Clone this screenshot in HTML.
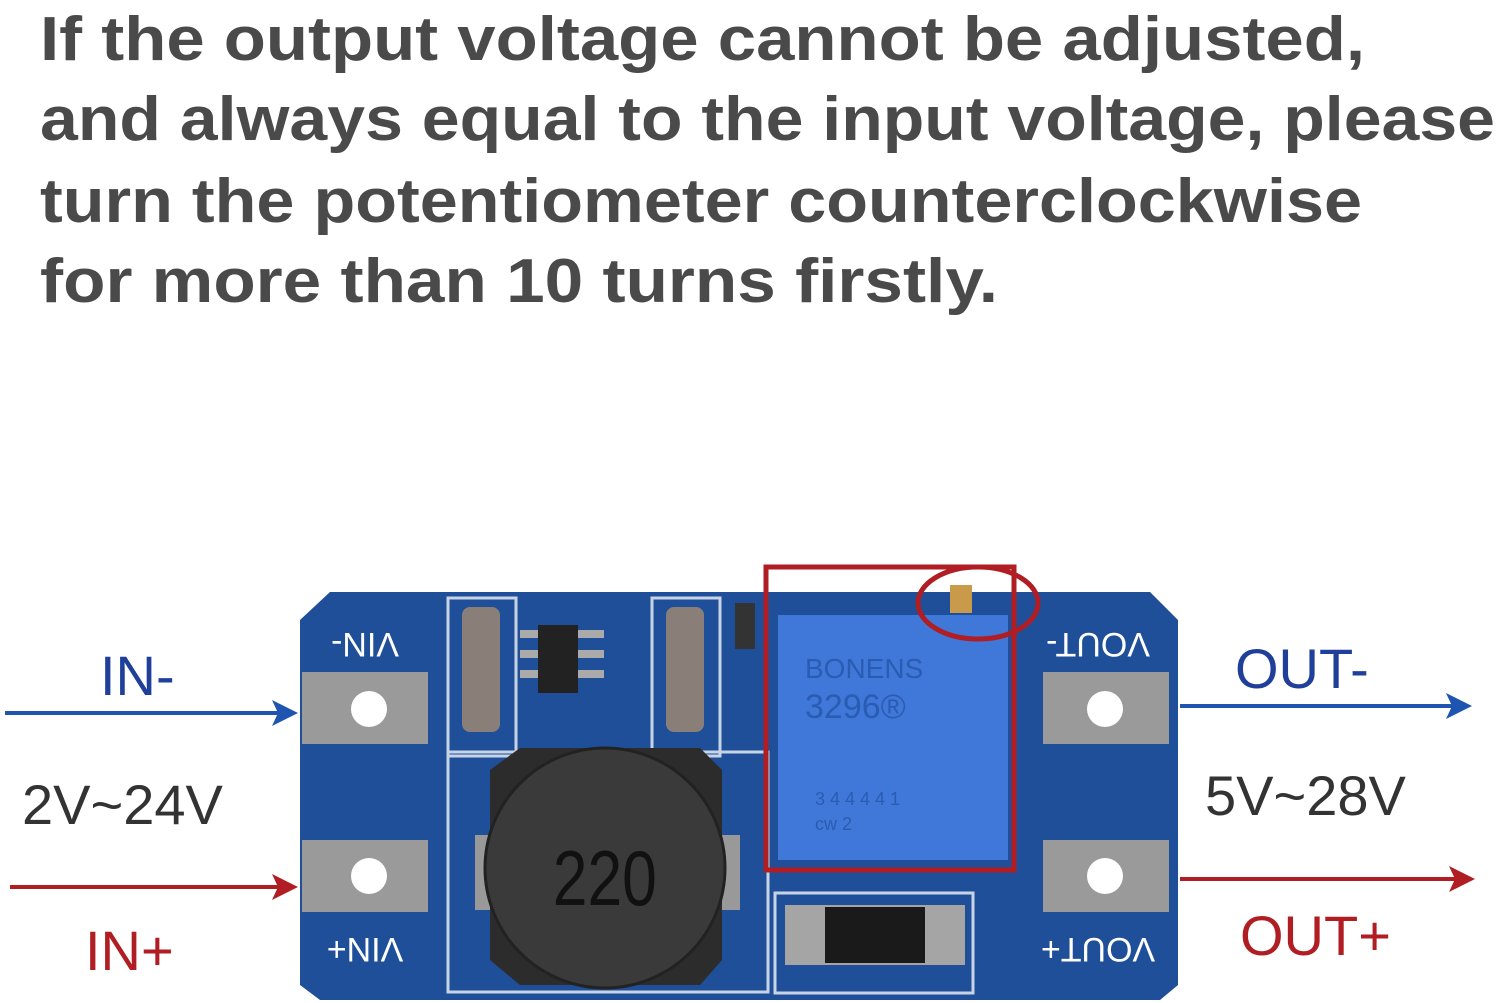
<!DOCTYPE html>
<html><head><meta charset="utf-8"><style>body{margin:0;background:#fff}svg{display:block}</style></head><body>
<svg width="1500" height="1003" viewBox="0 0 1500 1003" xmlns="http://www.w3.org/2000/svg" font-family="Liberation Sans, sans-serif">
<rect width="1500" height="1003" fill="#fff"/>
<g fill="#4a4a4a" font-weight="bold" font-size="62">
<text x="40" y="60" textLength="1325" lengthAdjust="spacingAndGlyphs">If the output voltage cannot be adjusted,</text>
<text x="40" y="140" textLength="1455" lengthAdjust="spacingAndGlyphs">and always equal to the input voltage, please</text>
<text x="40" y="222" textLength="1322" lengthAdjust="spacingAndGlyphs">turn the potentiometer counterclockwise</text>
<text x="40" y="302" textLength="958" lengthAdjust="spacingAndGlyphs">for more than 10 turns firstly.</text>
</g>
<path d="M330 592 H1150 L1178 620 V985 L1160 1000 H320 L300 985 V620 Z" fill="#1f4f98"/>
<g fill="none" stroke="#c8d4e6" stroke-width="3">
<rect x="448" y="598" width="68" height="158"/>
<rect x="652" y="598" width="68" height="158"/>
<rect x="448" y="752" width="320" height="240"/>
<rect x="775" y="893" width="198" height="100"/>
</g>
<g fill="#9a9a9a">
<rect x="302" y="672" width="126" height="72"/>
<rect x="302" y="840" width="126" height="72"/>
<rect x="1043" y="672" width="126" height="72"/>
<rect x="1043" y="840" width="126" height="72"/>
</g>
<g fill="#fff">
<circle cx="369" cy="709" r="18"/><circle cx="369" cy="876" r="18"/>
<circle cx="1105" cy="709" r="18"/><circle cx="1105" cy="876" r="18"/>
</g>
<rect x="462" y="607" width="38" height="125" rx="8" fill="#8a7f78"/>
<rect x="666" y="607" width="38" height="125" rx="8" fill="#8a7f78"/>
<rect x="735" y="603" width="20" height="46" fill="#333"/>
<rect x="538" y="625" width="40" height="68" fill="#222"/>
<g fill="#aaa"><rect x="520" y="630" width="18" height="8"/><rect x="520" y="650" width="18" height="8"/><rect x="520" y="670" width="18" height="8"/><rect x="578" y="630" width="26" height="8"/><rect x="578" y="650" width="26" height="8"/><rect x="578" y="670" width="26" height="8"/></g>
<rect x="475" y="835" width="265" height="75" fill="#999"/>
<path d="M520 748 H700 L722 770 V960 L700 985 H520 L490 960 V770 Z" fill="#2c2c2c"/>
<circle cx="605" cy="868" r="120" fill="#3a3a3a" stroke="#222" stroke-width="3"/>
<text x="605" y="905" font-size="78" fill="#111" text-anchor="middle" transform="scale(0.8 1) translate(151 0)">220</text>
<rect x="785" y="905" width="180" height="60" fill="#a5a5a5"/>
<rect x="825" y="907" width="100" height="56" fill="#1a1a1a"/>
<rect x="778" y="615" width="230" height="245" fill="#3f78d8"/>
<rect x="950" y="585" width="22" height="28" fill="#c89a4a"/>
<g fill="#2b5cb3" font-size="28">
<text x="805" y="678">BONENS</text><text x="805" y="718" font-size="34">3296®</text>
<text x="815" y="805" font-size="18">3 4 4 4 4 1</text><text x="815" y="830" font-size="18">cw  2</text>
</g>
<rect x="766" y="567" width="248" height="303" fill="none" stroke="#b01e23" stroke-width="5"/>
<ellipse cx="978" cy="603" rx="60" ry="36" fill="none" stroke="#b01e23" stroke-width="5"/>
<g fill="#fff" font-size="34" text-anchor="middle">
<text x="365" y="657" transform="rotate(180 365 645)">VIN-</text>
<text x="365" y="962" transform="rotate(180 365 950)">VIN+</text>
<text x="1098" y="657" transform="rotate(180 1098 645)">VOUT-</text>
<text x="1098" y="962" transform="rotate(180 1098 950)">VOUT+</text>
</g>
<g stroke-width="4">
<line x1="5" y1="713" x2="285" y2="713" stroke="#1f55b0"/><path d="M298 713 L272 700 L278 713 L272 726Z" fill="#1f55b0"/>
<line x1="10" y1="887" x2="285" y2="887" stroke="#b01e23"/><path d="M298 887 L272 874 L278 887 L272 900Z" fill="#b01e23"/>
<line x1="1180" y1="706" x2="1460" y2="706" stroke="#1f55b0"/><path d="M1472 706 L1446 693 L1452 706 L1446 719Z" fill="#1f55b0"/>
<line x1="1180" y1="879" x2="1462" y2="879" stroke="#b01e23"/><path d="M1475 879 L1449 866 L1455 879 L1449 892Z" fill="#b01e23"/>
</g>
<g font-size="56">
<text x="100" y="695" fill="#1f3f9a">IN-</text>
<text x="85" y="970" fill="#b01e23">IN+</text>
<text x="22" y="824" fill="#333">2V~24V</text>
<text x="1235" y="688" fill="#1f3f9a">OUT-</text>
<text x="1240" y="955" fill="#b01e23">OUT+</text>
<text x="1205" y="815" fill="#333">5V~28V</text>
</g>
</svg>
</body></html>
